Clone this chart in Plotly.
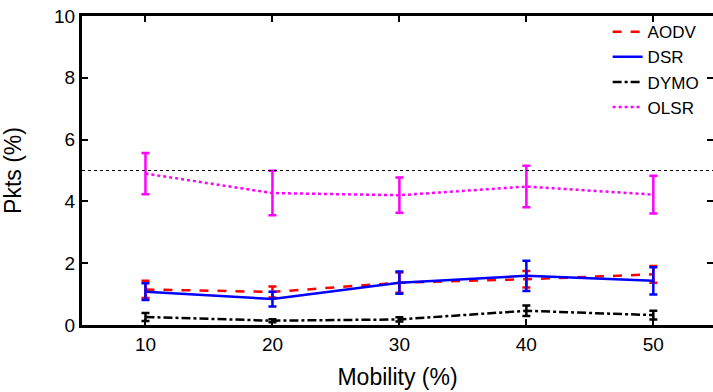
import plotly.graph_objects as go

mobility = [10, 20, 30, 40, 50]
aodv = [1.15, 1.07, 1.37, 1.48, 1.64]
aodv_err = [0.28, 0.18, 0.33, 0.27, 0.27]
dsr = [1.08, 0.84, 1.37, 1.59, 1.43]
dsr_err = [0.27, 0.24, 0.36, 0.49, 0.44]
dymo = [0.26, 0.14, 0.18, 0.46, 0.32]
dymo_err = [0.13, 0.05, 0.07, 0.17, 0.14]
olsr = [4.9, 4.27, 4.2, 4.48, 4.22]
olsr_err = [0.67, 0.72, 0.57, 0.67, 0.61]
threshold = 5

FONT = dict(family="Liberation Sans, Arial, sans-serif", size=19, color="black")

fig = go.Figure()

def add(name, y, err, color, dash):
    fig.add_trace(go.Scatter(
        x=mobility, y=y, name=name, mode="lines",
        line=dict(color=color, width=2.5, dash=dash),
        error_y=dict(type="data", array=err, visible=True, color=color,
                     thickness=2.5, width=4),
    ))

add("AODV", aodv, aodv_err, "#ff0000", "dash")
add("DSR", dsr, dsr_err, "#0000ff", "solid")
add("DYMO", dymo, dymo_err, "black", "dashdot")
add("OLSR", olsr, olsr_err, "#ff00ff", "dot")

fig.add_hline(y=threshold, line=dict(color="black", width=1.2, dash="dot"))

# right-side ticks (no visible spine)
fig.add_trace(go.Scatter(x=[None], y=[None], yaxis="y2", showlegend=False))

fig.update_layout(
    width=713, height=392,
    margin=dict(l=82, r=0, t=16, b=67, autoexpand=False),
    paper_bgcolor="white", plot_bgcolor="white",
    font=FONT,
    showlegend=True,
    legend=dict(x=0.833, y=1.006, xanchor="left", yanchor="top",
                bgcolor="rgba(0,0,0,0)", borderwidth=0,
                font=dict(size=17), tracegroupgap=0, itemwidth=30),
    xaxis=dict(range=[5, 54.7], tickvals=mobility, ticks="inside", ticklen=6,
               tickwidth=2, tickcolor="black", showline=True, linewidth=3,
               linecolor="black", mirror="ticks", showgrid=False, zeroline=False,
               automargin=False, ticklabeloverflow="allow",
               title=dict(text="Mobility (%)", standoff=16), tickfont=FONT),
    yaxis=dict(range=[0, 10], tickvals=[0, 2, 4, 6, 8, 10], ticks="inside",
               ticklen=6, tickwidth=2, tickcolor="black", showline=True,
               linewidth=3, linecolor="black", showgrid=False, zeroline=False,
               automargin=False, ticklabeloverflow="allow",
               title=dict(text="Pkts (%)", standoff=28), tickfont=FONT),
    yaxis2=dict(range=[0, 10], overlaying="y", side="right", tickvals=[2, 4, 6, 8, 10],
                ticks="inside", ticklen=6, tickwidth=2, tickcolor="black",
                showticklabels=False, showline=False, showgrid=False, zeroline=False,
                automargin=False),
)

fig.write_html("out.html", config={"displayModeBar": False},
               post_script="document.body.style.margin='0';document.body.style.overflow='hidden';")
